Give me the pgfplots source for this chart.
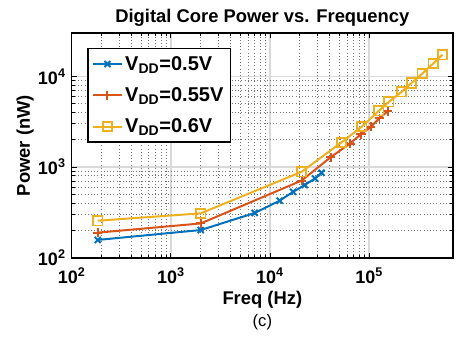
\documentclass[border=0pt]{standalone}
\usepackage{fontspec}
\setmainfont{Liberation Sans}
\usepackage{pgfplots}
\pgfplotsset{compat=1.18}
\definecolor{mblue}{rgb}{0,0.447,0.741}
\definecolor{morange}{rgb}{0.85,0.325,0.098}
\definecolor{myellow}{rgb}{0.929,0.694,0.125}
\begin{document}
\begin{tikzpicture}[font=\bfseries]
\begin{loglogaxis}[
  scale only axis, width=286pt, height=168.75pt,
  xmin=100, xmax=7e5, ymin=100, ymax=3e4,
  xtick={100,1000,10000,100000},
  xticklabels={10\textsuperscript{2},10\textsuperscript{3},10\textsuperscript{4},10\textsuperscript{5}},
  ytick={100,1000,10000},
  yticklabels={10\textsuperscript{2},10\textsuperscript{3},10\textsuperscript{4}},
  tick align=inside,
  major tick length=4pt, minor tick length=2.5pt,
  every tick/.style={black, line width=0.8pt},
  grid=both,
  major grid style={draw=black!15, line width=1.1pt},
  minor grid style={draw=black!55, dotted, line width=0.8pt},
  axis line style={line width=1.1pt},
  ticklabel style={font=\fontsize{13.5}{15}\selectfont\bfseries},
  xticklabel style={yshift=-4pt},
  yticklabel style={xshift=-1pt},
  xlabel={Freq (Hz)},
  xlabel style={font=\fontsize{13.8}{15}\selectfont\bfseries, at={(axis description cs:0.5,-0.1867)}, anchor=center},
  ylabel={Power (nW)},
  ylabel style={font=\fontsize{13.8}{15}\selectfont\bfseries, at={(axis description cs:-0.1224,0.5)}, anchor=center},
  legend style={at={(axis description cs:0,1)}, anchor=north west, xshift=11.5pt, yshift=-11.25pt,
    draw=black, line width=1.1pt, fill=white, font=\fontsize{15}{17}\selectfont\bfseries,
    row sep=7.5pt, inner sep=3.5pt},
  legend cell align=left,
  legend image code/.code={\draw[mark repeat=2,mark phase=2] plot coordinates {(0cm,0cm)(0.37cm,0cm)(0.74cm,0cm)};},
  every axis plot/.append style={line width=1.5pt},
]
\addplot[color=mblue, mark=x, mark size=3.2pt, mark options={solid, line width=1.5pt}] coordinates {
(183,158) (2000,203) (7000,313) (12500,427) (17100,535) (22400,636) (28400,751) (33100,866)};
\addlegendentry{V\textsubscript{DD}=0.5V}
\addplot[color=morange, mark=+, mark size=3.4pt, mark options={solid, line width=1.5pt}] coordinates {
(183,190) (2000,240) (20800,711) (41000,1290) (64000,1820) (82600,2310) (104000,2780) (127000,3470) (153000,4100)};
\addlegendentry{V\textsubscript{DD}=0.55V}
\addplot[color=myellow, mark=square, mark size=3.5pt, mark options={solid, line width=1.3pt}] coordinates {
(183,257) (2000,310) (20800,888) (52400,1870) (84500,2800) (125000,4170) (158000,5230) (212000,6750) (267000,8440) (343000,10700) (441000,13800) (548000,17300)};
\addlegendentry{V\textsubscript{DD}=0.6V}
\end{loglogaxis}
\node[font=\fontsize{13.8}{15}\selectfont\bfseries] at (143pt,180.5pt) {Digital Core Power vs. Frequency};
\node[font=\fontsize{12.5}{14}\selectfont\mdseries] at (143pt,-48pt) {(c)};
\pgfresetboundingbox
\useasboundingbox (-53.8pt,-60.75pt) rectangle (288.25pt,193.5pt);
\end{tikzpicture}
\end{document}
